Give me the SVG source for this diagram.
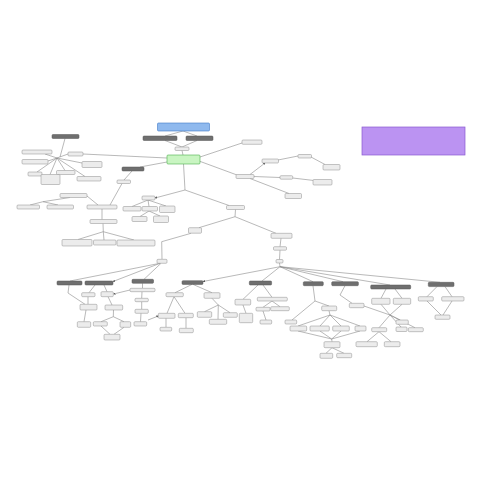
<svg xmlns="http://www.w3.org/2000/svg" width="481" height="481" viewBox="0 0 481 481">
<style>
.c{stroke:#8a8a8a;stroke-width:0.6;fill:none}
.n{fill:#ececec;stroke:#8c8c8c;stroke-width:0.5}
.d{fill:#6f6f6f;stroke:#555;stroke-width:0.5}
.g{fill:#c9f5c2;stroke:#4cae4c;stroke-width:0.6}
.b{fill:#8fb9ee;stroke:#3f78c8;stroke-width:0.6}
.p{fill:#bb93f2;stroke:#8a5bd0;stroke-width:0.7}
</style>
<defs>
<marker id="a" viewBox="0 0 6 6" refX="5" refY="3" markerWidth="4" markerHeight="4" orient="auto"><path d="M0,0L6,3L0,6z" fill="#555"/></marker>
</defs>
<rect width="481" height="481" fill="#fff"/>
<g id="connectors">
<line class="c" x1="183" y1="131" x2="165" y2="136"/>
<line class="c" x1="183" y1="131" x2="197" y2="136"/>
<line class="c" x1="165" y1="140.5" x2="182" y2="147"/>
<line class="c" x1="197" y1="140.5" x2="182" y2="147"/>
<line class="c" x1="182" y1="150.5" x2="183" y2="155"/>
<line class="c" x1="200" y1="157" x2="242" y2="143"/>
<line class="c" x1="167" y1="158" x2="83" y2="154"/>
<line class="c" x1="167" y1="162" x2="140" y2="167"/>
<line class="c" x1="65" y1="138.5" x2="60" y2="157"/>
<line class="c" x1="57" y1="158" x2="68" y2="154"/>
<line class="c" x1="57" y1="158" x2="45" y2="154"/>
<line class="c" x1="57" y1="158" x2="48" y2="161"/>
<line class="c" x1="57" y1="158" x2="37" y2="172"/>
<line class="c" x1="57" y1="158" x2="50" y2="174.5"/>
<line class="c" x1="57" y1="158" x2="65" y2="170.5"/>
<line class="c" x1="57" y1="158" x2="85" y2="176.5"/>
<line class="c" x1="57" y1="158" x2="82" y2="163"/>
<line class="c" x1="132" y1="171" x2="124" y2="180"/>
<line class="c" x1="122" y1="183.5" x2="110" y2="205"/>
<line class="c" x1="87" y1="196" x2="98" y2="205"/>
<line class="c" x1="70" y1="197.5" x2="43" y2="201.7"/>
<line class="c" x1="43" y1="201.7" x2="30" y2="205"/>
<line class="c" x1="43" y1="201.7" x2="58" y2="205"/>
<line class="c" x1="102" y1="209" x2="102" y2="219.5"/>
<line class="c" x1="103" y1="223.5" x2="103.3" y2="231.7"/>
<line class="c" x1="103.3" y1="231.7" x2="78" y2="239.5"/>
<line class="c" x1="103.3" y1="231.7" x2="104" y2="240"/>
<line class="c" x1="103.3" y1="231.7" x2="134" y2="240"/>
<line class="c" x1="183.5" y1="164" x2="185" y2="190"/>
<line class="c" x1="185" y1="190" x2="155" y2="198" marker-end="url(#a)"/>
<line class="c" x1="185" y1="190" x2="229" y2="205.5"/>
<line class="c" x1="148" y1="200" x2="132" y2="206.5"/>
<line class="c" x1="148" y1="200" x2="149" y2="206.5"/>
<line class="c" x1="148" y1="200" x2="166" y2="206"/>
<line class="c" x1="149" y1="211" x2="140" y2="216.5"/>
<line class="c" x1="149" y1="211" x2="160" y2="216"/>
<line class="c" x1="199" y1="161" x2="237" y2="175"/>
<line class="c" x1="250" y1="174.5" x2="265" y2="163" marker-end="url(#a)"/>
<line class="c" x1="278" y1="160" x2="298" y2="156"/>
<line class="c" x1="311" y1="157" x2="325" y2="164.5"/>
<line class="c" x1="254" y1="176.5" x2="280" y2="177.5"/>
<line class="c" x1="292.7" y1="178" x2="314" y2="180.5"/>
<line class="c" x1="250" y1="178.5" x2="289" y2="193.5"/>
<line class="c" x1="235.5" y1="209.5" x2="235" y2="216.7"/>
<line class="c" x1="235" y1="216.7" x2="199" y2="227.7"/>
<line class="c" x1="235" y1="216.7" x2="276" y2="233.3"/>
<line class="c" x1="191" y1="233.3" x2="161.7" y2="241.7"/>
<line class="c" x1="161.7" y1="241.7" x2="162" y2="259.3"/>
<line class="c" x1="160" y1="263.3" x2="70" y2="281"/>
<line class="c" x1="160" y1="263.3" x2="113" y2="281.5" marker-end="url(#a)"/>
<line class="c" x1="161" y1="263.3" x2="144" y2="279.3"/>
<line class="c" x1="281" y1="238.3" x2="280" y2="246.7"/>
<line class="c" x1="280" y1="250.2" x2="279.5" y2="259.5"/>
<line class="c" x1="279.5" y1="263" x2="280" y2="266.7"/>
<line class="c" x1="280" y1="266.7" x2="203" y2="281.5" marker-end="url(#a)"/>
<line class="c" x1="280" y1="266.7" x2="262" y2="281"/>
<line class="c" x1="280" y1="266.7" x2="313" y2="281.7"/>
<line class="c" x1="280" y1="266.7" x2="343" y2="281.7"/>
<line class="c" x1="280" y1="266.7" x2="390" y2="285"/>
<line class="c" x1="280" y1="266.7" x2="440" y2="282.3"/>
<line class="c" x1="69" y1="285" x2="68" y2="293"/>
<line class="c" x1="68" y1="293" x2="85" y2="304.3"/>
<line class="c" x1="95" y1="285" x2="89" y2="292.7"/>
<line class="c" x1="104" y1="285" x2="107" y2="291.7"/>
<line class="c" x1="130" y1="290" x2="113.5" y2="294" marker-end="url(#a)"/>
<line class="c" x1="88" y1="296.7" x2="88" y2="304.3"/>
<line class="c" x1="108" y1="296.7" x2="112" y2="305"/>
<line class="c" x1="86" y1="310" x2="84" y2="321.7"/>
<line class="c" x1="113.5" y1="310" x2="113.3" y2="316.7"/>
<line class="c" x1="113.3" y1="316.7" x2="101" y2="321.7"/>
<line class="c" x1="113.3" y1="316.7" x2="124" y2="321.7"/>
<line class="c" x1="101" y1="326" x2="110" y2="334.3"/>
<line class="c" x1="124" y1="327.3" x2="114" y2="334.3"/>
<line class="c" x1="142.5" y1="283.3" x2="142.5" y2="288.3"/>
<line class="c" x1="142" y1="291.7" x2="141.7" y2="298.3"/>
<line class="c" x1="141.7" y1="301.7" x2="141.7" y2="309.3"/>
<line class="c" x1="141" y1="313.3" x2="140.5" y2="321.7"/>
<line class="c" x1="148" y1="320" x2="158.3" y2="316" marker-end="url(#a)"/>
<line class="c" x1="192" y1="284.4" x2="175" y2="292.7"/>
<line class="c" x1="193" y1="284.4" x2="212" y2="292.7"/>
<line class="c" x1="174" y1="296.7" x2="167" y2="313.3"/>
<line class="c" x1="174" y1="296.7" x2="185" y2="313.3"/>
<line class="c" x1="166" y1="318.3" x2="166" y2="327.3"/>
<line class="c" x1="186" y1="317.7" x2="186" y2="328.3"/>
<line class="c" x1="212" y1="298.3" x2="218.3" y2="305"/>
<line class="c" x1="218.3" y1="305" x2="204.5" y2="311.7"/>
<line class="c" x1="218.3" y1="305" x2="218" y2="319.3"/>
<line class="c" x1="218.3" y1="305" x2="230" y2="312.7"/>
<line class="c" x1="258" y1="285" x2="243" y2="299.3"/>
<line class="c" x1="243" y1="305" x2="246" y2="313.3"/>
<line class="c" x1="263" y1="285" x2="272" y2="297.3"/>
<line class="c" x1="272" y1="301" x2="263" y2="307.3"/>
<line class="c" x1="272" y1="301" x2="280" y2="306.7"/>
<line class="c" x1="263" y1="311" x2="266" y2="320"/>
<line class="c" x1="313" y1="285.7" x2="315" y2="301"/>
<line class="c" x1="315" y1="301" x2="292" y2="320"/>
<line class="c" x1="315" y1="301" x2="329" y2="306"/>
<line class="c" x1="329" y1="310.7" x2="330" y2="315"/>
<line class="c" x1="330" y1="315" x2="298" y2="326"/>
<line class="c" x1="330" y1="315" x2="320" y2="326"/>
<line class="c" x1="330" y1="315" x2="341" y2="326"/>
<line class="c" x1="330" y1="315" x2="360" y2="326"/>
<line class="c" x1="298" y1="331" x2="331.7" y2="339"/>
<line class="c" x1="320" y1="331" x2="331.7" y2="339"/>
<line class="c" x1="341" y1="331" x2="331.7" y2="339"/>
<line class="c" x1="360" y1="331" x2="331.7" y2="339"/>
<line class="c" x1="331.7" y1="339" x2="332" y2="341.7"/>
<line class="c" x1="332" y1="347.7" x2="326" y2="353.3"/>
<line class="c" x1="332" y1="347.7" x2="344" y2="353.3"/>
<line class="c" x1="345" y1="285.7" x2="340" y2="295"/>
<line class="c" x1="340" y1="295" x2="352" y2="303.3"/>
<line class="c" x1="364" y1="306" x2="390" y2="315"/>
<line class="c" x1="386" y1="289" x2="381" y2="298.3"/>
<line class="c" x1="395" y1="289" x2="402" y2="298.3"/>
<line class="c" x1="381" y1="304.3" x2="390" y2="315"/>
<line class="c" x1="402" y1="304.3" x2="390" y2="315"/>
<line class="c" x1="390" y1="315" x2="400" y2="320"/>
<line class="c" x1="390" y1="315" x2="379" y2="327.7"/>
<line class="c" x1="390" y1="315" x2="401" y2="327"/>
<line class="c" x1="390" y1="315" x2="415" y2="327.7"/>
<line class="c" x1="379" y1="331.7" x2="367" y2="341.7"/>
<line class="c" x1="379" y1="331.7" x2="391" y2="341.7"/>
<line class="c" x1="437" y1="286.6" x2="427" y2="296.7"/>
<line class="c" x1="445" y1="286.6" x2="452" y2="296.7"/>
<line class="c" x1="427" y1="301" x2="441" y2="315"/>
<line class="c" x1="452" y1="301" x2="443" y2="315"/>
</g>
<g id="n-title"><rect class="b" x="157.5" y="123" width="52" height="8" rx="1"/></g>
<g id="n-d1"><rect class="d" x="143" y="136" width="34" height="4.5" rx="1"/></g>
<g id="n-d2"><rect class="d" x="186" y="136" width="27" height="4.5" rx="1"/></g>
<g id="n-s1"><rect class="n" x="175" y="147" width="14" height="3.5" rx="1"/></g>
<g id="n-green"><rect class="g" x="167" y="155" width="33" height="9" rx="1"/></g>
<g id="n-d3"><rect class="d" x="52" y="134.5" width="27" height="4" rx="1"/></g>
<g id="n-l0"><rect class="n" x="68" y="152" width="15" height="4" rx="1"/></g>
<g id="n-l1"><rect class="n" x="22" y="150" width="30" height="4" rx="1"/></g>
<g id="n-l2"><rect class="n" x="22" y="159.5" width="26" height="4.5" rx="1"/></g>
<g id="n-l3"><rect class="n" x="28" y="172" width="14" height="4" rx="1"/></g>
<g id="n-l4"><rect class="n" x="41" y="174.5" width="19" height="10" rx="1"/></g>
<g id="n-l5"><rect class="n" x="56.5" y="170.5" width="18.5" height="4" rx="1"/></g>
<g id="n-l6"><rect class="n" x="77" y="176.5" width="24" height="4.5" rx="1"/></g>
<g id="n-l7"><rect class="n" x="82" y="161.5" width="20" height="6" rx="1"/></g>
<g id="n-d4"><rect class="d" x="122" y="167" width="22" height="4" rx="1"/></g>
<g id="n-m1"><rect class="n" x="117" y="180" width="13.5" height="3.5" rx="1"/></g>
<g id="n-m2"><rect class="n" x="60" y="193.5" width="27" height="4" rx="1"/></g>
<g id="n-m3"><rect class="n" x="17" y="205" width="22.5" height="4" rx="1"/></g>
<g id="n-m4"><rect class="n" x="47" y="205" width="26.5" height="4" rx="1"/></g>
<g id="n-m5"><rect class="n" x="87" y="205" width="30" height="4" rx="1"/></g>
<g id="n-m6"><rect class="n" x="90" y="219.5" width="27" height="4" rx="1"/></g>
<g id="n-m7"><rect class="n" x="62" y="239.5" width="30" height="6.5" rx="1"/></g>
<g id="n-m8"><rect class="n" x="93.5" y="240" width="22.5" height="5" rx="1"/></g>
<g id="n-m9"><rect class="n" x="117" y="240" width="38" height="6" rx="1"/></g>
<g id="n-c1"><rect class="n" x="142" y="196" width="13" height="4" rx="1"/></g>
<g id="n-c2"><rect class="n" x="123" y="206.5" width="18" height="4.5" rx="1"/></g>
<g id="n-c3"><rect class="n" x="142" y="206.5" width="15.5" height="4.5" rx="1"/></g>
<g id="n-c4"><rect class="n" x="159.5" y="206" width="15.5" height="6.5" rx="1"/></g>
<g id="n-c5"><rect class="n" x="132" y="216.5" width="15" height="5" rx="1"/></g>
<g id="n-c6"><rect class="n" x="153.5" y="216" width="15" height="6.5" rx="1"/></g>
<g id="n-c7"><rect class="n" x="226.5" y="205.5" width="18" height="4" rx="1"/></g>
<g id="n-r1"><rect class="n" x="242" y="140" width="20" height="4.3" rx="1"/></g>
<g id="n-r2"><rect class="n" x="236" y="174.5" width="18" height="4" rx="1"/></g>
<g id="n-r3"><rect class="n" x="262" y="159" width="16.5" height="4" rx="1"/></g>
<g id="n-r4"><rect class="n" x="298" y="154.5" width="13.5" height="3.5" rx="1"/></g>
<g id="n-r5"><rect class="n" x="323" y="164.5" width="17" height="5.5" rx="1"/></g>
<g id="n-r6"><rect class="n" x="280" y="175.7" width="12.7" height="3.5" rx="1"/></g>
<g id="n-r7"><rect class="n" x="313" y="179.5" width="19" height="5.5" rx="1"/></g>
<g id="n-r8"><rect class="n" x="285" y="193.5" width="16.5" height="5" rx="1"/></g>
<g id="n-legend"><rect class="p" x="362" y="127" width="103" height="28"/></g>
<g id="n-k1"><rect class="n" x="188.5" y="227.7" width="13" height="5.5" rx="1"/></g>
<g id="n-k2"><rect class="n" x="271" y="233.3" width="21" height="5" rx="1"/></g>
<g id="n-k3"><rect class="n" x="273.5" y="246.7" width="13" height="3.5" rx="1"/></g>
<g id="n-k4"><rect class="n" x="276" y="259.5" width="7" height="3.5" rx="1"/></g>
<g id="n-k5"><rect class="n" x="157" y="259.3" width="10" height="4" rx="1"/></g>
<g id="n-da"><rect class="d" x="57" y="281" width="25" height="4" rx="1"/></g>
<g id="n-db"><rect class="d" x="85" y="281" width="28" height="4" rx="1"/></g>
<g id="n-dc"><rect class="d" x="132" y="279.3" width="21.5" height="4" rx="1"/></g>
<g id="n-dd"><rect class="d" x="182" y="280.7" width="21" height="3.7" rx="1"/></g>
<g id="n-de"><rect class="d" x="249.3" y="281" width="22.3" height="4" rx="1"/></g>
<g id="n-df"><rect class="d" x="303.3" y="281.7" width="20" height="4" rx="1"/></g>
<g id="n-dg"><rect class="d" x="331.7" y="281.7" width="26.7" height="4" rx="1"/></g>
<g id="n-dh"><rect class="d" x="370.7" y="285" width="40" height="4" rx="1"/></g>
<g id="n-di"><rect class="d" x="428.3" y="282.3" width="25.7" height="4.3" rx="1"/></g>
<g id="n-b1"><rect class="n" x="81.7" y="292.7" width="13.3" height="4" rx="1"/></g>
<g id="n-b2"><rect class="n" x="101" y="291.7" width="12.3" height="5" rx="1"/></g>
<g id="n-b3"><rect class="n" x="80" y="304.3" width="17" height="5.7" rx="1"/></g>
<g id="n-b4"><rect class="n" x="105" y="305" width="17.7" height="5" rx="1"/></g>
<g id="n-b5"><rect class="n" x="77.3" y="321.7" width="13.4" height="5.6" rx="1"/></g>
<g id="n-b6"><rect class="n" x="93.3" y="321.7" width="14" height="4.3" rx="1"/></g>
<g id="n-b7"><rect class="n" x="120" y="321.7" width="10.7" height="5.6" rx="1"/></g>
<g id="n-b8"><rect class="n" x="104" y="334.3" width="16" height="5.7" rx="1"/></g>
<g id="n-b9"><rect class="n" x="130" y="288.3" width="25" height="3.4" rx="1"/></g>
<g id="n-b10"><rect class="n" x="135" y="298.3" width="13.3" height="3.4" rx="1"/></g>
<g id="n-b11"><rect class="n" x="135" y="309.3" width="13.3" height="4" rx="1"/></g>
<g id="n-b12"><rect class="n" x="134" y="321.7" width="12.7" height="4.3" rx="1"/></g>
<g id="n-e1"><rect class="n" x="166" y="292.7" width="17.3" height="4" rx="1"/></g>
<g id="n-e2"><rect class="n" x="204" y="292.7" width="16" height="5.6" rx="1"/></g>
<g id="n-e3"><rect class="n" x="158.3" y="313.3" width="16.7" height="5" rx="1"/></g>
<g id="n-e4"><rect class="n" x="178.3" y="313.3" width="15" height="4.4" rx="1"/></g>
<g id="n-e5"><rect class="n" x="160" y="327.3" width="11.7" height="3.7" rx="1"/></g>
<g id="n-e6"><rect class="n" x="179.3" y="328.3" width="14" height="4.4" rx="1"/></g>
<g id="n-e7"><rect class="n" x="197.3" y="311.7" width="14.4" height="5.6" rx="1"/></g>
<g id="n-e8"><rect class="n" x="209.3" y="319.3" width="17.4" height="5" rx="1"/></g>
<g id="n-e9"><rect class="n" x="223.3" y="312.7" width="14" height="4.6" rx="1"/></g>
<g id="n-f1"><rect class="n" x="235" y="299.3" width="15.7" height="5.7" rx="1"/></g>
<g id="n-f2"><rect class="n" x="239.3" y="313.3" width="13.4" height="9.4" rx="1"/></g>
<g id="n-f3"><rect class="n" x="257.3" y="297.3" width="30" height="3.7" rx="1"/></g>
<g id="n-f4"><rect class="n" x="256" y="307.3" width="14" height="3.7" rx="1"/></g>
<g id="n-f5"><rect class="n" x="270.7" y="306.7" width="18.6" height="4" rx="1"/></g>
<g id="n-f6"><rect class="n" x="260" y="320" width="11.7" height="4" rx="1"/></g>
<g id="n-f7"><rect class="n" x="285" y="320" width="11.7" height="4" rx="1"/></g>
<g id="n-h1"><rect class="n" x="321.7" y="306" width="15" height="4.7" rx="1"/></g>
<g id="n-h2"><rect class="n" x="290" y="326" width="16.7" height="5" rx="1"/></g>
<g id="n-h3"><rect class="n" x="310" y="326" width="19.3" height="5" rx="1"/></g>
<g id="n-h4"><rect class="n" x="332.7" y="326" width="16.6" height="5" rx="1"/></g>
<g id="n-h5"><rect class="n" x="355" y="326" width="11" height="5" rx="1"/></g>
<g id="n-h6"><rect class="n" x="324" y="341.7" width="16" height="6" rx="1"/></g>
<g id="n-h7"><rect class="n" x="320" y="353.3" width="12.7" height="5" rx="1"/></g>
<g id="n-h8"><rect class="n" x="336.7" y="353.3" width="15" height="4.4" rx="1"/></g>
<g id="n-h9"><rect class="n" x="349.3" y="303.3" width="14.7" height="4.4" rx="1"/></g>
<g id="n-i1"><rect class="n" x="371.7" y="298.3" width="18.3" height="6" rx="1"/></g>
<g id="n-i2"><rect class="n" x="393.3" y="298.3" width="17.4" height="6" rx="1"/></g>
<g id="n-i3"><rect class="n" x="396" y="320" width="12.3" height="4.3" rx="1"/></g>
<g id="n-i4"><rect class="n" x="371.7" y="327.7" width="15" height="4" rx="1"/></g>
<g id="n-i5"><rect class="n" x="396" y="327" width="11" height="4.5" rx="1"/></g>
<g id="n-i6"><rect class="n" x="408.3" y="327.7" width="15" height="4" rx="1"/></g>
<g id="n-i7"><rect class="n" x="356" y="341.7" width="21.3" height="5" rx="1"/></g>
<g id="n-i8"><rect class="n" x="384.3" y="341.7" width="15.7" height="5" rx="1"/></g>
<g id="n-j1"><rect class="n" x="418.3" y="296.7" width="15" height="4.3" rx="1"/></g>
<g id="n-j2"><rect class="n" x="441.7" y="296.7" width="22.3" height="4.3" rx="1"/></g>
<g id="n-j3"><rect class="n" x="435" y="315" width="15" height="4.3" rx="1"/></g>
</svg>
